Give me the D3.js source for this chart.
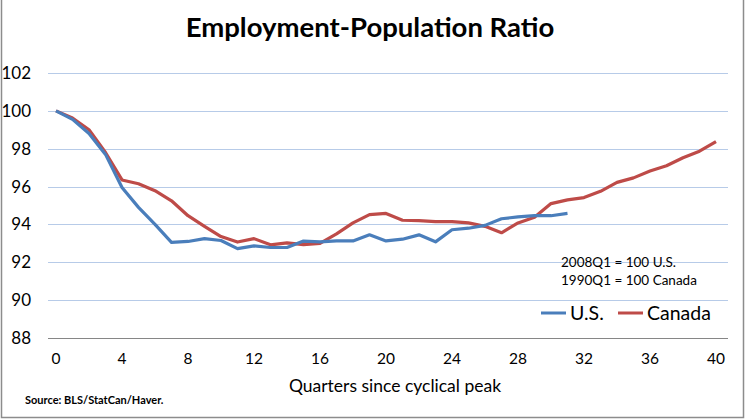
<!DOCTYPE html>
<html>
<head>
<meta charset="utf-8">
<script src="https://cdn.jsdelivr.net/npm/d3@7"></script>
<style>
  html, body { margin: 0; padding: 0; background: #fff; }
  text { font-family: Lato, "Open Sans", sans-serif; fill: #000; }
</style>
</head>
<body>
<svg id="chart" width="745" height="419"></svg>
<script>
"use strict";

// quarters since cyclical peak
var usQuarters = d3.range(0, 32);
var caQuarters = d3.range(0, 41);

var usValues = [100, 99.55, 98.8, 97.7, 95.95, 94.9, 94.0, 93.05, 93.1, 93.25, 93.15,
    92.72, 92.87, 92.78, 92.78, 93.12, 93.08, 93.13, 93.13, 93.45, 93.13, 93.22,
    93.45, 93.08, 93.72, 93.8, 93.95, 94.3, 94.4, 94.46, 94.46, 94.58];

var caValues = [100, 99.62, 99.0, 97.8, 96.35, 96.15, 95.78, 95.25, 94.46, 93.9, 93.36,
    93.07, 93.25, 92.92, 93.03, 92.93, 93.0, 93.5, 94.08, 94.52, 94.58, 94.22,
    94.2, 94.15, 94.15, 94.08, 93.9, 93.56, 94.08, 94.38, 95.1, 95.3, 95.42,
    95.75, 96.22, 96.46, 96.82, 97.1, 97.52, 97.87, 98.38];

var yTicks = [88, 90, 92, 94, 96, 98, 100, 102];
var xTicks = [0, 4, 8, 12, 16, 20, 24, 28, 32, 36, 40];

var svg = d3.select("#chart");

var x = d3.scaleLinear().domain([0, 40]).range([56, 716]);
var y = d3.scaleLinear().domain([88, 102]).range([338, 73]);

// outer border
svg.append("path")
    .attr("d", "M1.5,0 V417.5 H743.5 V0")
    .attr("fill", "none")
    .attr("stroke", "#8c8c8c")
    .attr("stroke-width", 1.5);

svg.append("text")
    .attr("x", 370).attr("y", 37)
    .attr("text-anchor", "middle")
    .style("font-size", "27.5px").style("font-weight", "bold")
    .text("Employment-Population Ratio");

// gridlines
svg.append("g").selectAll("line").data(yTicks).enter().append("line")
    .attr("x1", 48).attr("x2", 728)
    .attr("y1", d => Math.round(y(d)) + 0.5).attr("y2", d => Math.round(y(d)) + 0.5)
    .attr("stroke", d => d == 88 ? "#868686" : "#b7cbe8")
    .attr("stroke-width", 1);

// y labels
svg.append("g").selectAll("text").data(yTicks).enter().append("text")
    .attr("x", 31).attr("y", d => y(d) + 6)
    .attr("text-anchor", "end")
    .style("font-size", "17px")
    .text(d => d);

// x labels
svg.append("g").selectAll("text").data(xTicks).enter().append("text")
    .attr("x", d => x(d)).attr("y", 364)
    .attr("text-anchor", "middle")
    .style("font-size", "15.5px")
    .text(d => d);

svg.append("text")
    .attr("x", 395).attr("y", 392)
    .attr("text-anchor", "middle")
    .style("font-size", "17.5px")
    .text("Quarters since cyclical peak");

svg.append("text")
    .attr("x", 25).attr("y", 404)
    .style("font-size", "11px").style("font-weight", "bold")
    .text("Source: BLS/StatCan/Haver.");

var line = d3.line().x(d => x(d[0])).y(d => y(d[1]));

svg.append("path")
    .datum(caQuarters.map((q, i) => [q, caValues[i]]))
    .attr("d", line)
    .attr("fill", "none").attr("stroke", "#be4b48")
    .attr("stroke-width", 3.2).attr("stroke-linejoin", "round");

svg.append("path")
    .datum(usQuarters.map((q, i) => [q, usValues[i]]))
    .attr("d", line)
    .attr("fill", "none").attr("stroke", "#4a7ebb")
    .attr("stroke-width", 3.2).attr("stroke-linejoin", "round");

// note
svg.append("text").attr("x", 561).attr("y", 267)
    .style("font-size", "13.5px").text("2008Q1 = 100 U.S.");
svg.append("text").attr("x", 561).attr("y", 285)
    .style("font-size", "13.5px").text("1990Q1 = 100 Canada");

// legend
var legend = [["U.S.", "#4a7ebb", 541], ["Canada", "#be4b48", 618]];
var lg = svg.append("g").selectAll("g").data(legend).enter().append("g");
lg.append("line")
    .attr("x1", d => d[2]).attr("x2", d => d[2] + 25)
    .attr("y1", 313).attr("y2", 313)
    .attr("stroke", d => d[1]).attr("stroke-width", 3);
lg.append("text")
    .attr("x", d => d[2] + 29).attr("y", 320)
    .style("font-size", "19.5px")
    .text(d => d[0]);
</script>
</body>
</html>
